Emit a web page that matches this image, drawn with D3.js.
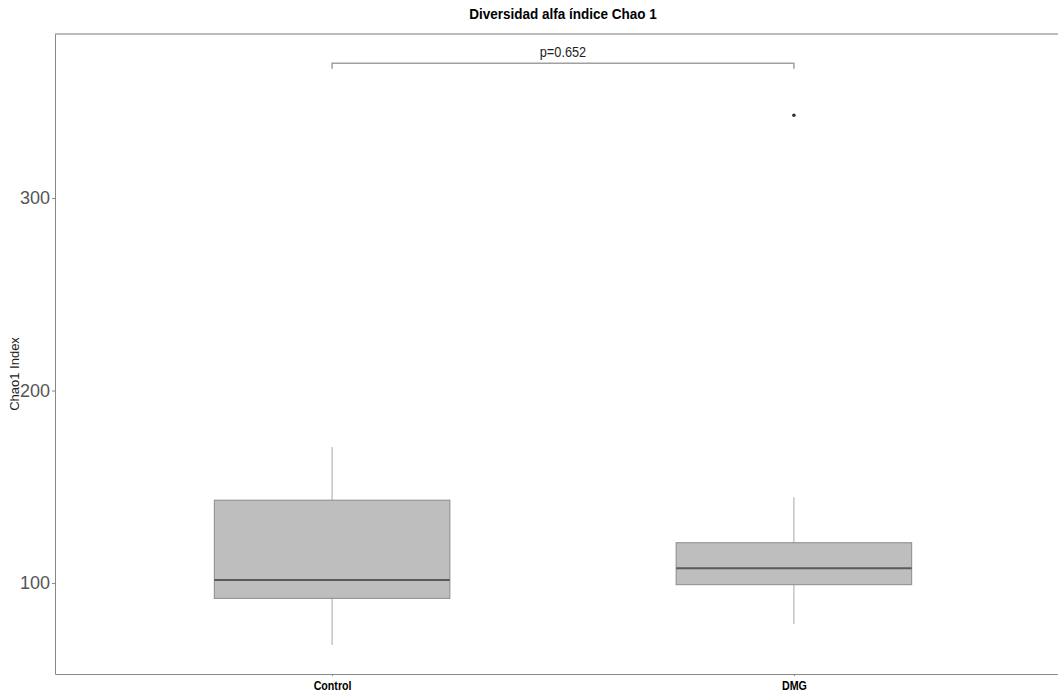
<!DOCTYPE html>
<html>
<head>
<meta charset="utf-8">
<script src="https://cdn.jsdelivr.net/npm/d3@7"></script>
<style>
  body { margin: 0; background: #fff; }
  svg { display: block; }
  text { font-family: "Liberation Sans", Arial, sans-serif; }
</style>
</head>
<body>
<svg width="1058" height="696"></svg>
<script>
const groups = ['Control', 'DMG'];
const whiskerLow = [67.8, 78.7];
const q1 = [92.0, 99.1];
const median = [101.6, 107.6];
const q3 = [143.0, 120.9];
const whiskerHigh = [170.6, 144.5];
const outliers = [[], [343]];
const yTicks = [100, 200, 300];
const pLabel = 'p=0.652';

const svg = d3.select('svg');
const margin = { top: 34, right: -13, bottom: 22, left: 55 };
const width = +svg.attr('width') - margin.left - margin.right;
const height = +svg.attr('height') - margin.top - margin.bottom;

// discrete positions 1..n, ggplot style expansion of 0.6
const x = d3.scaleLinear().domain([0.4, groups.length + 0.6]).range([0, width]);
const y = d3.scaleLinear().domain([52.7, 385.2]).range([height, 0]);
const boxW = x(1.255) - x(0.745);

// the original uses a condensed face, squeeze the text to match
const squeeze = (sel, k) => sel.each(function () {
  const w = this.getComputedTextLength();
  d3.select(this).attr('textLength', w * k).attr('lengthAdjust', 'spacingAndGlyphs');
});

svg.append('text')
  .attr('x', margin.left + width / 2)
  .attr('y', 19)
  .attr('text-anchor', 'middle')
  .attr('font-weight', 'bold')
  .attr('font-size', 15)
  .text('Diversidad alfa índice Chao 1')
  .call(squeeze, 0.9);

const g = svg.append('g').attr('transform', `translate(${margin.left},${margin.top})`);

// top panel border
g.append('line')
  .attr('x1', 0).attr('x2', width)
  .attr('y1', 0).attr('y2', 0)
  .attr('stroke', '#bdbdbd').attr('stroke-width', 2);

// boxes
groups.forEach((name, i) => {
  const cx = x(i + 1);
  g.append('line')
    .attr('x1', cx).attr('x2', cx)
    .attr('y1', y(q3[i])).attr('y2', y(whiskerHigh[i]))
    .attr('stroke', '#a6a6a6').attr('stroke-width', 1);
  g.append('line')
    .attr('x1', cx).attr('x2', cx)
    .attr('y1', y(q1[i])).attr('y2', y(whiskerLow[i]))
    .attr('stroke', '#a6a6a6').attr('stroke-width', 1);
  g.append('rect')
    .attr('x', cx - boxW / 2)
    .attr('y', y(q3[i]))
    .attr('width', boxW)
    .attr('height', y(q1[i]) - y(q3[i]))
    .attr('fill', '#bebebe')
    .attr('stroke', '#8a8a8a').attr('stroke-width', 1);
  g.append('line')
    .attr('x1', cx - boxW / 2).attr('x2', cx + boxW / 2)
    .attr('y1', y(median[i])).attr('y2', y(median[i]))
    .attr('stroke', '#5a5a5a').attr('stroke-width', 2);
  outliers[i].forEach(v => {
    g.append('circle')
      .attr('cx', cx).attr('cy', y(v)).attr('r', 1.8)
      .attr('fill', '#333');
  });
});

// significance bracket
const by = 29.3;
g.append('path')
  .attr('d', `M${x(1)},${by + 5.5}V${by}H${x(2)}V${by + 5.5}`)
  .attr('fill', 'none').attr('stroke', '#a0a0a0').attr('stroke-width', 1.5);
g.append('text')
  .attr('x', (x(1) + x(2)) / 2)
  .attr('y', by - 6)
  .attr('text-anchor', 'middle')
  .attr('font-size', 15)
  .attr('fill', '#222')
  .text(pLabel)
  .call(squeeze, 0.85);

// axes
const yAxis = g.append('g')
  .call(d3.axisLeft(y).tickValues(yTicks).tickSize(3).tickSizeOuter(0).tickPadding(2));
yAxis.select('.domain').attr('stroke', '#888');
yAxis.selectAll('.tick line').attr('stroke', '#888');
yAxis.selectAll('.tick text')
  .attr('font-size', 18).attr('fill', '#555');

const xAxis = g.append('g')
  .attr('transform', `translate(0,${height})`)
  .call(d3.axisBottom(x).tickValues(groups.map((d, i) => i + 1))
    .tickFormat((d, i) => groups[i]).tickSize(2).tickPadding(5).tickSizeOuter(0));
xAxis.select('.domain').attr('stroke', '#888');
xAxis.selectAll('.tick line').attr('stroke', '#888');
xAxis.selectAll('.tick text')
  .attr('font-size', 13).attr('font-weight', 'bold').attr('fill', '#000')
  .call(squeeze, 0.82);

svg.append('text')
  .attr('transform', `translate(19,374) rotate(-90)`)
  .attr('text-anchor', 'middle')
  .attr('font-size', 13)
  .attr('fill', '#222')
  .text('Chao1 Index');
</script>
</body>
</html>
